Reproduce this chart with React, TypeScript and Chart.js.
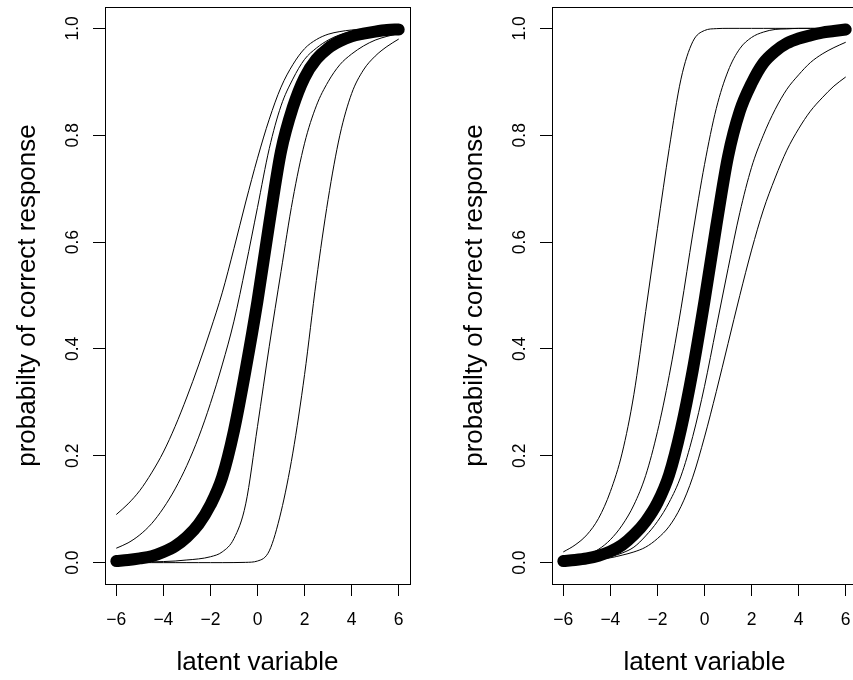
import React, { useEffect, useRef } from "react";
import { Chart, registerables } from "chart.js";

Chart.register(...registerables);

// ---- data ----
const latent = [-6, -5.5, -5, -4.5, -4, -3.5, -3, -2.5, -2, -1.5, -1, -0.5, 0, 0.5, 1, 1.5, 2, 2.5, 3, 3.5, 4, 4.5, 5, 5.5, 6];

const xTicks = [-6, -4, -2, 0, 2, 4, 6];
const xTickLabels = ["\u22126", "\u22124", "\u22122", "0", "2", "4", "6"];
const yTicks = [0, 0.2, 0.4, 0.6, 0.8, 1.0];
const yTickLabels = ["0.0", "0.2", "0.4", "0.6", "0.8", "1.0"];
const xLabel = "latent variable";
const yLabel = "probabilty of correct response";

// left panel: items with different locations / asymmetry
const leftItem1 = [0.09, 0.11, 0.135, 0.168, 0.207, 0.255, 0.31, 0.37, 0.435, 0.505, 0.588, 0.675, 0.757, 0.83, 0.89, 0.932, 0.962, 0.979, 0.989, 0.994, 0.997, 0.998, 0.999, 0.9995, 1.0];
const leftItem2 = [0.027, 0.037, 0.052, 0.073, 0.102, 0.138, 0.182, 0.235, 0.298, 0.37, 0.452, 0.555, 0.665, 0.775, 0.855, 0.905, 0.942, 0.963, 0.978, 0.988, 0.994, 0.997, 0.998, 0.999, 0.9995];
const leftItem3 = [0.0003, 0.0005, 0.001, 0.0015, 0.002, 0.003, 0.005, 0.007, 0.011, 0.02, 0.045, 0.11, 0.255, 0.405, 0.545, 0.68, 0.785, 0.855, 0.9, 0.932, 0.952, 0.967, 0.978, 0.985, 0.99];
const leftItem4 = [0, 0, 0, 0, 0, 0, 0, 0, 0, 0, 0.0001, 0.0005, 0.003, 0.022, 0.095, 0.205, 0.352, 0.528, 0.68, 0.8, 0.878, 0.922, 0.948, 0.966, 0.98];
const leftMean = [0.003, 0.005, 0.008, 0.012, 0.02, 0.031, 0.048, 0.072, 0.108, 0.16, 0.247, 0.362, 0.49, 0.635, 0.77, 0.852, 0.908, 0.942, 0.963, 0.976, 0.985, 0.99, 0.994, 0.997, 0.998];

// right panel: items with different discriminations
const rightItem1 = [0.02, 0.033, 0.052, 0.083, 0.133, 0.205, 0.315, 0.47, 0.625, 0.775, 0.905, 0.975, 0.996, 0.9995, 1, 1, 1, 1, 1, 1, 1, 1, 1, 1, 1];
const rightItem2 = [0.007, 0.01, 0.015, 0.025, 0.043, 0.07, 0.108, 0.163, 0.245, 0.35, 0.475, 0.615, 0.745, 0.85, 0.92, 0.962, 0.983, 0.993, 0.998, 0.999, 1, 1, 1, 1, 1];
const rightItem3 = [0.002, 0.003, 0.005, 0.007, 0.011, 0.018, 0.029, 0.05, 0.077, 0.113, 0.162, 0.236, 0.33, 0.44, 0.55, 0.655, 0.74, 0.8, 0.848, 0.886, 0.913, 0.936, 0.952, 0.964, 0.974];
const rightItem4 = [0.002, 0.003, 0.004, 0.006, 0.009, 0.014, 0.02, 0.029, 0.045, 0.068, 0.105, 0.16, 0.235, 0.32, 0.41, 0.5, 0.585, 0.66, 0.72, 0.772, 0.812, 0.845, 0.87, 0.892, 0.909];
const rightMean = [0.003, 0.005, 0.008, 0.013, 0.021, 0.033, 0.052, 0.077, 0.112, 0.165, 0.25, 0.36, 0.49, 0.63, 0.76, 0.845, 0.897, 0.935, 0.957, 0.972, 0.981, 0.987, 0.992, 0.995, 0.998];

const FONT = "'Liberation Sans', Arial, Helvetica, sans-serif";
const CANVAS_W = 427;
const CANVAS_H = 680;

const boxPlugin = {
  id: "rbox",
  afterDraw(chart: any) {
    const { ctx, chartArea: a } = chart;
    ctx.save();
    ctx.strokeStyle = "#000";
    ctx.lineWidth = 1;
    ctx.strokeRect(a.left + 0.5, a.top + 0.5, a.right - a.left, a.bottom - a.top);
    ctx.restore();
  },
};

function makeConfig(items: number[][], mean: number[]): any {
  const toPts = (arr: number[]) => latent.map((x, i) => ({ x, y: arr[i] }));
  const datasets: any[] = [
    {
      data: toPts(mean),
      borderColor: "#000",
      borderWidth: 12,
      borderCapStyle: "round",
      borderJoinStyle: "round",
      pointRadius: 0,
      cubicInterpolationMode: "monotone",
      fill: false,
    },
    ...items.map((arr) => ({
      data: toPts(arr),
      borderColor: "#000",
      borderWidth: 1,
      pointRadius: 0,
      cubicInterpolationMode: "monotone",
      fill: false,
    })),
  ];
  return {
    type: "line",
    data: { datasets },
    plugins: [boxPlugin],
    options: {
      responsive: false,
      animation: false,
      events: [],
      layout: { padding: { left: 0, right: CANVAS_W - 410, top: 7, bottom: 0 } },
      plugins: { legend: { display: false }, tooltip: { enabled: false } },
      scales: {
        x: {
          type: "linear",
          position: "bottom",
          min: -6.48,
          max: 6.48,
          afterBuildTicks: (s: any) => {
            s.ticks = xTicks.map((v) => ({ value: v }));
          },
          afterFit: (s: any) => {
            s.height = 96;
            s.paddingLeft = 0;
            s.paddingRight = 0;
            s.paddingTop = 0;
            s.paddingBottom = 0;
          },
          ticks: {
            autoSkip: false,
            maxRotation: 0,
            minRotation: 0,
            padding: 13.4,
            color: "#000",
            font: { family: FONT, size: 17.5 },
            callback: (_v: any, i: number) => xTickLabels[i],
          },
          grid: { display: true, drawOnChartArea: false, drawTicks: true, tickLength: 12, color: "#000", lineWidth: 1 },
          border: { display: true, color: "#000", width: 1 },
          title: { display: true, text: xLabel, color: "#000", font: { family: FONT, size: 26 }, padding: { top: 0, bottom: 1.7 } },
        },
        y: {
          type: "linear",
          position: "left",
          min: -0.04,
          max: 1.04,
          afterBuildTicks: (s: any) => {
            s.ticks = yTicks.map((v) => ({ value: v }));
          },
          afterFit: (s: any) => {
            s.width = 105;
            s.paddingLeft = 0;
            s.paddingRight = 0;
            s.paddingTop = 0;
            s.paddingBottom = 0;
          },
          ticks: {
            autoSkip: false,
            minRotation: 90,
            maxRotation: 90,
            crossAlign: "center",
            padding: 7.6,
            color: "#000",
            font: { family: FONT, size: 17.5 },
            callback: (_v: any, i: number) => yTickLabels[i],
          },
          grid: { display: true, drawOnChartArea: false, drawTicks: true, tickLength: 12, color: "#000", lineWidth: 1 },
          border: { display: true, color: "#000", width: 1 },
          title: { display: true, text: yLabel, color: "#000", font: { family: FONT, size: 26 }, padding: { top: 11.8, bottom: 0 } },
        },
      },
    },
  };
}

function Panel({ left, items, mean }: { left: number; items: number[][]; mean: number[] }) {
  const ref = useRef<HTMLCanvasElement>(null);
  useEffect(() => {
    if (!ref.current) return;
    const chart = new Chart(ref.current, makeConfig(items, mean));
    return () => chart.destroy();
  }, []);
  return (
    <canvas
      ref={ref}
      width={CANVAS_W}
      height={CANVAS_H}
      style={{ position: "absolute", left, top: 0, width: CANVAS_W, height: CANVAS_H }}
    />
  );
}

export default function App() {
  return (
    <div
      style={{
        position: "fixed",
        left: 0,
        top: 0,
        width: 853,
        height: 680,
        overflow: "hidden",
        background: "#fff",
      }}
    >
      <Panel left={0} items={[leftItem1, leftItem2, leftItem3, leftItem4]} mean={leftMean} />
      <Panel left={447} items={[rightItem1, rightItem2, rightItem3, rightItem4]} mean={rightMean} />
    </div>
  );
}
